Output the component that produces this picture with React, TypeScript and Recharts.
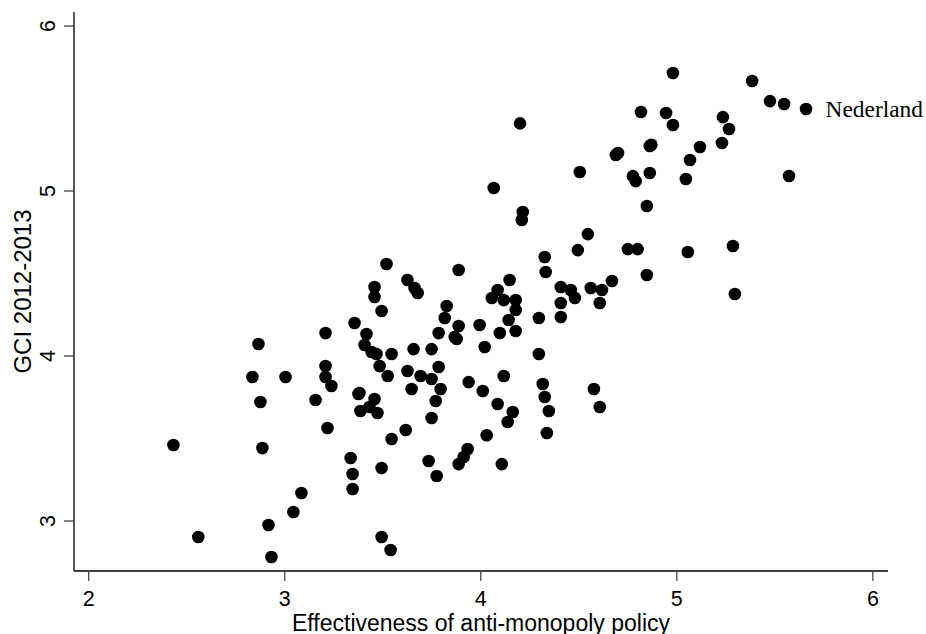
import React from 'react';
import { ScatterChart, Scatter, XAxis, YAxis, Label } from 'recharts';

// Effectiveness of anti-monopoly policy (x) and GCI 2012-2013 (y), one entry per country
const effectiveness: number[] = [
  4.98, 5.384, 5.475, 5.547, 4.817, 4.945, 4.98, 5.235, 5.266, 5.23,
  4.689, 4.70, 4.862, 4.87, 5.118, 5.067, 4.505, 4.776, 4.79, 4.862,
  5.046, 5.572, 4.847, 4.546, 4.75, 4.80, 5.056, 5.286, 4.847, 4.669,
  4.561, 4.618, 5.296, 4.20, 4.214, 4.209, 4.066, 4.326, 4.495, 4.331,
  4.147, 4.086, 4.056, 4.117, 4.178, 4.178, 4.142, 4.097, 4.178, 4.296,
  4.408, 4.459, 4.48, 4.408, 4.408, 4.607, 4.02, 3.994, 4.296, 4.117,
  4.01, 4.086, 4.163, 4.137, 4.03, 4.316, 4.326, 4.347, 4.337, 4.577,
  4.607, 3.519, 3.887, 3.626, 3.662, 3.678, 3.458, 3.458, 3.494, 3.826,
  3.816, 3.887, 3.356, 3.208, 3.785, 3.867, 3.877, 3.417, 3.407, 3.443,
  3.468, 3.545, 3.657, 3.749, 3.484, 3.525, 3.208, 3.208, 3.238, 3.626,
  3.693, 3.749, 3.785, 3.647, 3.795, 3.77, 3.938, 3.381, 3.376, 3.458,
  3.386, 3.432, 3.473, 3.749, 3.157, 2.866, 2.835, 3.004, 2.876, 2.432,
  2.886, 3.218, 2.559, 2.917, 2.932, 3.044, 3.085, 3.346, 3.494, 3.54,
  3.617, 3.545, 3.336, 3.346, 3.494, 3.734, 3.775, 3.933, 3.913, 3.887,
  4.107,
];

const gci: number[] = [
  5.715, 5.667, 5.545, 5.527, 5.479, 5.473, 5.40, 5.448, 5.376, 5.291,
  5.218, 5.23, 5.273, 5.28, 5.267, 5.188, 5.115, 5.09, 5.06, 5.109,
  5.073, 5.091, 4.909, 4.739, 4.648, 4.648, 4.63, 4.667, 4.491, 4.455,
  4.412, 4.40, 4.376, 5.41, 4.873, 4.824, 5.018, 4.60, 4.642, 4.509,
  4.461, 4.40, 4.352, 4.339, 4.339, 4.279, 4.218, 4.139, 4.152, 4.23,
  4.418, 4.40, 4.352, 4.321, 4.236, 4.321, 4.055, 4.188, 4.012, 3.879,
  3.788, 3.709, 3.661, 3.60, 3.52, 3.83, 3.752, 3.667, 3.533, 3.80,
  3.691, 4.558, 4.521, 4.461, 4.412, 4.382, 4.418, 4.358, 4.273, 4.303,
  4.23, 4.182, 4.20, 4.139, 4.139, 4.115, 4.103, 4.133, 4.067, 4.024,
  4.012, 4.012, 4.042, 4.042, 3.939, 3.879, 3.939, 3.873, 3.818, 3.909,
  3.879, 3.861, 3.933, 3.80, 3.80, 3.727, 3.842, 3.776, 3.77, 3.739,
  3.667, 3.691, 3.655, 3.624, 3.733, 4.073, 3.873, 3.873, 3.721, 3.461,
  3.442, 3.564, 2.903, 2.976, 2.782, 3.055, 3.17, 3.194, 2.903, 2.824,
  3.552, 3.497, 3.382, 3.285, 3.321, 3.364, 3.273, 3.436, 3.388, 3.345,
  3.345,
];

// The labelled country
const highlightName = 'Nederland';
const highlightEffectiveness = 5.659;
const highlightGci = 5.497;

const xTicks = [2, 3, 4, 5, 6];
const yTicks = [3, 4, 5, 6];

const xLabel = 'Effectiveness of anti-monopoly policy';
const yLabel = 'GCI 2012-2013';

const countries = effectiveness.map((x, i) => ({ x, y: gci[i] }));
const highlighted = [{ x: highlightEffectiveness, y: highlightGci, name: highlightName }];

const FONT = 'Liberation Sans, Arial, Helvetica, sans-serif';
const DOT_R = 6.3;

const Dot = (props: any) => <circle cx={props.cx} cy={props.cy} r={DOT_R} fill="#000" />;

const LabelledDot = (props: any) => (
  <g>
    <circle cx={props.cx} cy={props.cy} r={DOT_R} fill="#000" />
    <text
      x={props.cx + 19.5}
      y={props.cy + 7.5}
      fontFamily="Liberation Serif, Times New Roman, serif"
      fontSize={23.4}
      fill="#000"
    >
      {props.payload.name}
    </text>
  </g>
);

const XTick = (props: any) => (
  <text x={props.x} y={props.y + 23} textAnchor="middle" fontFamily={FONT} fontSize={21.5} fill="#000">
    {props.payload.value}
  </text>
);

const YTick = (props: any) => (
  <text
    x={props.x - 6.5}
    y={props.y}
    transform={`rotate(-90 ${props.x - 6.5} ${props.y})`}
    textAnchor="middle"
    fontFamily={FONT}
    fontSize={21.5}
    fill="#000"
  >
    {props.payload.value}
  </text>
);

const App: React.FC = () => (
  <div style={{ position: 'absolute', left: 0, top: 0, width: 926, height: 634, background: '#fff' }}>
    <ScatterChart width={926} height={634} margin={{ top: 12, right: 38, bottom: 0, left: 0 }}>
      <XAxis
        type="number"
        dataKey="x"
        domain={[1.925, 6.077]}
        ticks={xTicks}
        height={63}
        stroke="#000"
        strokeWidth={1.3}
        tickSize={10}
        tickLine={{ stroke: '#444', strokeWidth: 1.3 }}
        tick={<XTick />}
      >
        <Label
          content={({ viewBox }: any) => (
            <text
              x={viewBox.x + viewBox.width / 2}
              y={viewBox.y + 59.5}
              textAnchor="middle"
              fontFamily={FONT}
              fontSize={23}
              fill="#000"
            >
              {xLabel}
            </text>
          )}
        />
      </XAxis>
      <YAxis
        type="number"
        dataKey="y"
        domain={[2.697, 6.085]}
        ticks={yTicks}
        width={74}
        stroke="#000"
        strokeWidth={1.3}
        tickSize={10}
        tickLine={{ stroke: '#444', strokeWidth: 1.3 }}
        tick={<YTick />}
      >
        <Label
          content={({ viewBox }: any) => {
            const cx = 31;
            const cy = viewBox.y + viewBox.height / 2;
            return (
              <text
                x={cx}
                y={cy}
                transform={`rotate(-90 ${cx} ${cy})`}
                textAnchor="middle"
                fontFamily={FONT}
                fontSize={24}
                fill="#000"
              >
                {yLabel}
              </text>
            );
          }}
        />
      </YAxis>
      <Scatter data={countries} shape={<Dot />} isAnimationActive={false} />
      <Scatter data={highlighted} shape={<LabelledDot />} isAnimationActive={false} />
    </ScatterChart>
  </div>
);

export default App;
